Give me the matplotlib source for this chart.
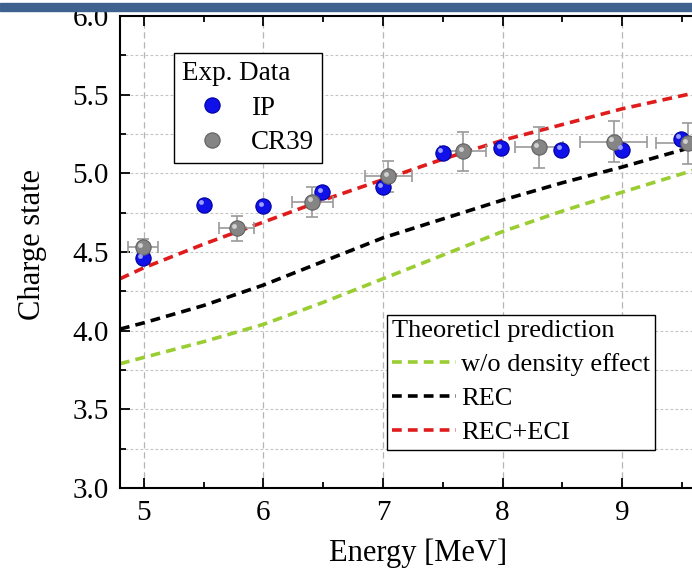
import numpy as np
import matplotlib
matplotlib.use("Agg")
import matplotlib.pyplot as plt
from matplotlib.transforms import offset_copy
from matplotlib.patches import Rectangle
from matplotlib.ticker import MultipleLocator

plt.rcParams['font.family'] = ['Liberation Serif', 'DejaVu Serif']

ip_E = [4.99, 5.50, 6.00, 6.49, 7.00, 7.50, 7.99, 8.49, 9.00, 9.49]
ip_Q = [4.46, 4.80, 4.79, 4.88, 4.91, 5.13, 5.16, 5.15, 5.15, 5.22]

cr_E = [4.99, 5.775, 6.41, 7.045, 7.67, 8.305, 8.93, 9.55]
cr_Q = [4.53, 4.65, 4.82, 4.98, 5.14, 5.165, 5.20, 5.19]
cr_Eerr = [0.125, 0.15, 0.175, 0.195, 0.19, 0.2, 0.28, 0.27]
cr_Qerr = [0.05, 0.08, 0.095, 0.10, 0.124, 0.128, 0.13, 0.13]

# theory curves
th_E = [4.8, 5.0, 5.5, 6.0, 6.5, 7.0, 7.5, 8.0, 8.5, 9.0, 9.6]
th_noden = [3.79, 3.83, 3.93, 4.04, 4.18, 4.33, 4.48, 4.63, 4.76, 4.88, 5.02]
th_rec = [4.01, 4.05, 4.16, 4.29, 4.44, 4.59, 4.71, 4.83, 4.94, 5.04, 5.17]
th_receci = [4.33, 4.40, 4.55, 4.69, 4.83, 4.96, 5.09, 5.21, 5.31, 5.41, 5.51]

W, H = 692, 569
fig = plt.figure(figsize=(W / 100, H / 100), dpi=100)
ax = fig.add_axes([120 / W, (H - 488) / H, (W - 120) / W, (488 - 16) / H])

ax.set_xlim(4.8, 9.585)
ax.set_ylim(3.0, 6.0)

# grid
for x in [5, 6, 7, 8, 9]:
    ax.axvline(x, color='#b5b5b5', lw=0.9, ls=(0, (5, 3)), zorder=0)
for y in np.arange(3.25, 6.0, 0.25):
    ax.axhline(y, color='#c4c4c4', lw=0.8, ls=(0, (2.5, 2)), zorder=0)

# theory lines
dash = (2.7, 1.7)
l1, = ax.plot(th_E, th_noden, color='#9acd32', lw=2.6, dashes=dash, label='w/o density effect', zorder=2)
l2, = ax.plot(th_E, th_rec, color='black', lw=2.6, dashes=dash, label='REC', zorder=2)
l3, = ax.plot(th_E, th_receci, color='#e01b1b', lw=2.6, dashes=dash, label='REC+ECI', zorder=2)

# experimental points
ax.errorbar(cr_E, cr_Q, xerr=cr_Eerr, yerr=cr_Qerr, fmt='none', ecolor='#9a9a9a',
            elinewidth=1.2, capsize=4, capthick=1.2, zorder=3)
hl = offset_copy(ax.transData, fig=fig, x=-2.5, y=2.5, units='dots')
p_ip, = ax.plot(ip_E, ip_Q, 'o', ms=11, mfc='#1010e8', mec='#0000a0', mew=0.8, zorder=4, label='IP')
ax.plot(ip_E, ip_Q, 'o', ms=3.5, mfc='#9aa0ff', mec='none', transform=hl, zorder=5)
p_cr, = ax.plot(cr_E, cr_Q, 'o', ms=11, mfc='#858585', mec='#606060', mew=0.8, zorder=4, label='CR39')
ax.plot(cr_E, cr_Q, 'o', ms=3.5, mfc='#d0d0d0', mec='none', transform=hl, zorder=5)

# axes styling
ax.spines['right'].set_visible(False)
for s in ['left', 'bottom', 'top']:
    ax.spines[s].set_linewidth(1.5)
ax.xaxis.set_major_locator(MultipleLocator(1))
ax.xaxis.set_minor_locator(MultipleLocator(0.5))
ax.yaxis.set_major_locator(MultipleLocator(0.5))
ax.yaxis.set_minor_locator(MultipleLocator(0.25))
ax.tick_params(which='both', direction='in', top=True, right=False, width=1.3)
ax.tick_params(which='major', length=7, labelsize=21)
ax.tick_params(which='minor', length=4)
ax.tick_params(axis='y', pad=8)
ax.tick_params(axis='x', pad=9)
ax.set_yticklabels([f'{v:.1f}' for v in ax.get_yticks()])

fig.text(418 / W, 1 - 553 / H, 'Energy [MeV]', fontsize=22, ha='center', va='center')
fig.text(33 / W, 1 - 245 / H, 'Charge state', fontsize=22, ha='center', va='center', rotation=90)

leg1 = ax.legend(handles=[p_ip, p_cr], title='Exp. Data', loc='upper left',
                 bbox_to_anchor=(174 / W, 1 - 53 / H), bbox_transform=fig.transFigure,
                 fontsize=19.5, title_fontsize=19.5, frameon=True, fancybox=False,
                 edgecolor='black', framealpha=1, borderpad=0.3, labelspacing=0.35,
                 handletextpad=0.35, handlelength=2.2, borderaxespad=0)
leg1._legend_box.align = 'left'
leg1.get_frame().set_linewidth(1.0)
ax.add_artist(leg1)

leg2 = ax.legend(handles=[l1, l2, l3], title='Theoreticl prediction', loc='upper left',
                 bbox_to_anchor=(387 / W, 1 - 315 / H), bbox_transform=fig.transFigure,
                 fontsize=19, title_fontsize=19, frameon=True, fancybox=False,
                 edgecolor='black', framealpha=1, borderpad=0.2, labelspacing=0.4,
                 handletextpad=0.2, handlelength=2.4, borderaxespad=0)
leg2._legend_box.align = 'left'
leg2.get_frame().set_linewidth(1.0)

# header bar at the top of the slide
fig.add_artist(Rectangle((0, 1 - 11 / H), 1, 8 / H, transform=fig.transFigure,
                         color='#3f6190', zorder=10))

fig.savefig('out.png', dpi=100)
